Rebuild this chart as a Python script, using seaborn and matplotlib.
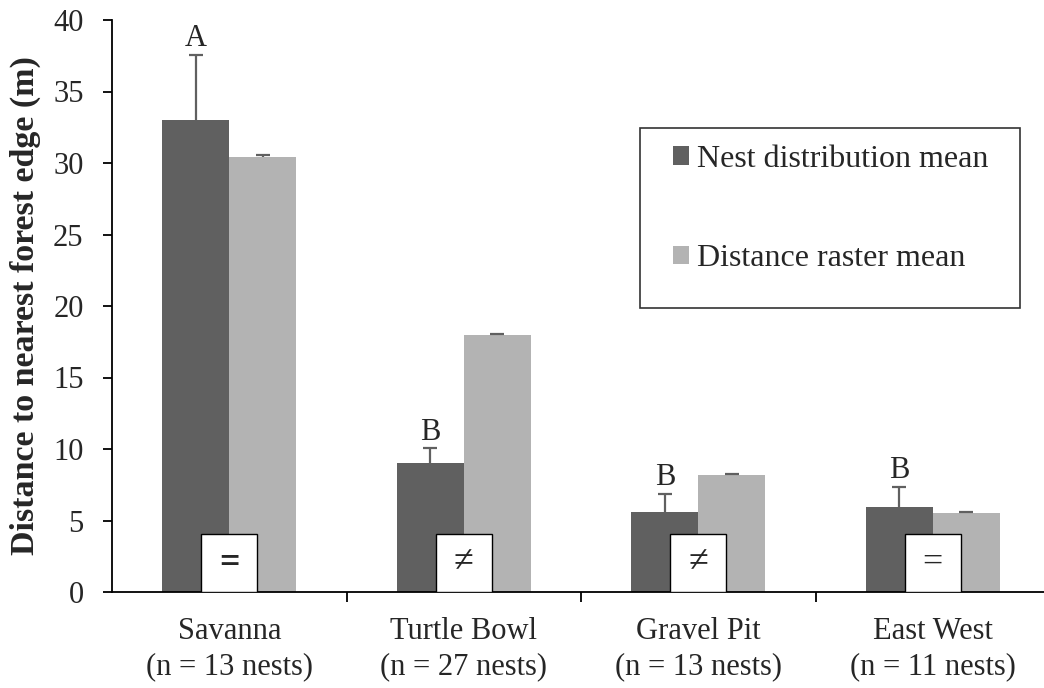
import matplotlib
matplotlib.use("Agg")
import matplotlib.pyplot as plt
from matplotlib.patches import Rectangle
from matplotlib.ticker import FixedLocator, MultipleLocator
import numpy as np
import pandas as pd
import seaborn as sns

# Site labels and sample sizes
sites = ["Savanna", "Turtle Bowl", "Gravel Pit", "East West"]
nests = [13, 27, 13, 11]
series = ["Nest distribution mean", "Distance raster mean"]

# Mean distance to nearest forest edge (m) and upper error
nest_mean = [33.0, 9.0, 5.6, 5.95]
nest_err = [4.55, 1.05, 1.25, 1.4]
raster_mean = [30.45, 17.95, 8.15, 5.55]
raster_err = [0.12, 0.1, 0.1, 0.06]

# Group letters and equality tests between the two means
group_letters = ["A", "B", "B", "B"]
equality = ["=", "\u2260", "\u2260", "="]

dark, light = "#606060", "#b3b3b3"

sns.set_style("white")
plt.rcParams["font.family"] = ["Liberation Serif", "DejaVu Serif"]
plt.rcParams["font.size"] = 22

df = pd.DataFrame({
    "site": sites * 2,
    "series": [series[0]] * 4 + [series[1]] * 4,
    "value": nest_mean + raster_mean,
})

fig = plt.figure(figsize=(10.44, 6.88), dpi=100)
W, H = 1044, 688
ax = fig.add_axes([112 / W, (H - 592) / H, 938 / W, 572 / H])

sns.barplot(data=df, x="site", y="value", hue="series", order=sites,
            hue_order=series, palette=[dark, light], width=0.57, gap=0,
            errorbar=None, saturation=1, linewidth=0, ax=ax)

# Upper-only error bars on the bars seaborn drew
errs = {series[0]: nest_err, series[1]: raster_err}
bar_groups = ax.containers
for cont, name in zip(bar_groups, series):
    xs = np.array([p.get_x() + p.get_width() / 2 for p in cont.patches])
    hs = np.array([p.get_height() for p in cont.patches])
    tops = hs + np.array(errs[name])
    ax.vlines(xs, hs, tops, colors=dark, linewidth=1.6, zorder=3)
    ax.plot(xs, tops, linestyle="none", marker="_", markersize=9.4,
            markeredgewidth=1.6, color=dark, zorder=3)

# Group letters over the nest-distribution bars
for p, e, letter in zip(bar_groups[0].patches, nest_err, group_letters):
    ax.annotate(letter, (p.get_x() + p.get_width() / 2, p.get_height() + e),
                xytext=(0, 6.3), textcoords="offset points", ha="center",
                va="baseline", fontsize=22)

# Equality boxes at the foot of each site
box_w, box_h = 0.24, 4.05
for i, sym in enumerate(equality):
    ax.add_patch(Rectangle((i - box_w / 2, 0), box_w, box_h, facecolor="white",
                           edgecolor="black", linewidth=1.0, zorder=4))
    ax.text(i, box_h / 2, sym, ha="center", va="center", fontsize=26,
            fontweight="bold" if i == 0 else "normal",
            family=["Liberation Serif", "DejaVu Sans"], zorder=5)

ax.set_xlim(-0.5, 3.5)
ax.set_ylim(0, 40)
ax.yaxis.set_major_locator(MultipleLocator(5))
ax.set_xticks(range(len(sites)))
ax.set_xticklabels([f"{s}\n(n = {n} nests)" for s, n in zip(sites, nests)])
for lbl in ax.get_xticklabels():
    lbl.set_linespacing(1.3)
ax.xaxis.set_minor_locator(FixedLocator([0.5, 1.5, 2.5]))
ax.tick_params(axis="x", which="major", length=0, pad=18, labelsize=22)
ax.tick_params(axis="x", which="minor", length=7.5, width=1.3,
               direction="out", color="black", bottom=True)
ax.tick_params(axis="y", length=6.5, width=1.3, direction="out",
               color="black", pad=14, labelsize=22, left=True)
ax.set_xlabel("")
ax.set_ylabel("Distance to nearest forest edge (m)", fontsize=24.5,
              fontweight="bold", labelpad=9)

sns.despine(ax=ax)
for side in ("left", "bottom"):
    ax.spines[side].set_color("black")
    ax.spines[side].set_linewidth(1.3)

# Legend with its own frame
handles, labels = ax.get_legend_handles_labels()
ax.get_legend().remove()
fig.patches.append(Rectangle((640 / W, (H - 308) / H), 380 / W, 180 / H,
                             transform=fig.transFigure, facecolor="white",
                             edgecolor="#333333", linewidth=1.2, zorder=5))
leg = fig.legend(handles, labels, loc="center", frameon=False,
                 bbox_to_anchor=(831 / W, (H - 209) / H), fontsize=23,
                 handlelength=0.5, handleheight=0.5, handletextpad=0.25,
                 labelspacing=2.2)
leg.set_zorder(6)

fig.savefig("out.png", dpi=100)
